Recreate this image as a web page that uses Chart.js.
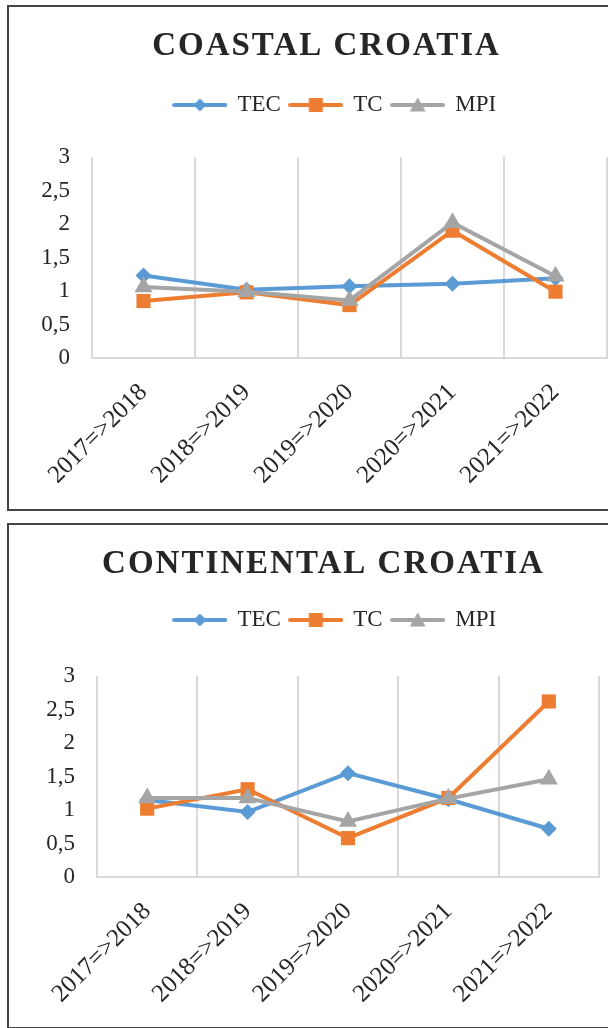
<!DOCTYPE html>
<html><head><meta charset="utf-8">
<script src="https://cdn.jsdelivr.net/npm/chart.js@4"></script>
<style>
html,body{margin:0;padding:0;background:#fff;overflow:hidden;width:608px;height:1028px;}
.box{position:absolute;left:7px;border:2px solid #444;width:652px;height:502px;background:#fff;}
#b1{top:5px}
#b2{top:523px}
canvas{display:block}
</style></head><body>
<div class="box" id="b1"><canvas id="c1" width="652" height="502"></canvas></div>
<div class="box" id="b2"><canvas id="c2" width="652" height="502"></canvas></div>
<script>
const categories = ['2017=>2018', '2018=>2019', '2019=>2020', '2020=>2021', '2021=>2022'];
const yTickLabels = ['0', '0,5', '1', '1,5', '2', '2,5', '3'];
const seriesNames = ['TEC', 'TC', 'MPI'];

const coastalTEC = [1.23, 1.02, 1.07, 1.11, 1.19];
const coastalTC  = [0.85, 0.98, 0.79, 1.90, 0.99];
const coastalMPI = [1.06, 0.99, 0.86, 2.02, 1.22];

const continentalTEC = [1.15, 0.97, 1.55, 1.16, 0.72];
const continentalTC  = [1.02, 1.31, 0.58, 1.18, 2.62];
const continentalMPI = [1.18, 1.18, 0.83, 1.17, 1.46];

const colors = ['#5B9BD5', '#ED7D31', '#A5A5A5'];
const styles = ['rectRot', 'rect', 'triangle'];
const radii = [8, 10, 10.5];
const FONT = "'Liberation Serif', 'Times New Roman', serif";
const TEXT = '#262626';

function makeIcon(color, style) {
  const c = document.createElement('canvas');
  c.width = 55; c.height = 18;
  const g = c.getContext('2d');
  g.strokeStyle = color; g.lineWidth = 4; g.lineCap = 'round';
  g.beginPath(); g.moveTo(2, 9); g.lineTo(53, 9); g.stroke();
  g.fillStyle = color; g.beginPath();
  if (style === 'rectRot') { g.moveTo(27.5, 2.5); g.lineTo(34, 9); g.lineTo(27.5, 15.5); g.lineTo(21, 9); }
  else if (style === 'rect') { g.rect(20.5, 2, 14, 14); }
  else { g.moveTo(27.5, 1.5); g.lineTo(35.5, 15.5); g.lineTo(19.5, 15.5); }
  g.closePath(); g.fill();
  return c;
}
const icons = colors.map((c, i) => makeIcon(c, styles[i]));

function makeChart(id, titleText, values, geo) {
  const tweak = {
    id: 'tweak',
    beforeUpdate(chart) {
      const lg = chart.legend;
      if (lg && !lg._patched) {
        const f = lg.fit;
        lg.fit = function () { f.call(this); this.height += geo.legendExtra; };
        lg._patched = true;
      }
    },
    beforeDraw(chart) {
      const tb = chart.titleBlock;
      if (tb && !tb._patched) {
        const d = tb.draw;
        tb.draw = function () {
          const c = this.ctx; c.save();
          c.letterSpacing = '2px';
          c.translate(geo.titleShift, 0);
          d.apply(this, arguments);
          c.restore();
        };
        tb._patched = true;
      }
    }
  };
  return new Chart(document.getElementById(id), {
    type: 'line',
    data: {
      labels: categories,
      datasets: values.map((v, i) => ({
        label: seriesNames[i],
        data: v,
        borderColor: colors[i],
        backgroundColor: colors[i],
        borderWidth: 4,
        pointStyle: styles[i],
        pointRadius: radii[i],
        pointBackgroundColor: colors[i],
        pointBorderColor: colors[i],
        pointBorderWidth: 0,
        tension: 0,
        order: 3 - i,
        clip: false
      }))
    },
    options: {
      responsive: false,
      animation: false,
      devicePixelRatio: 1,
      layout: { padding: 0 },
      plugins: {
        tooltip: { enabled: false },
        title: {
          display: true,
          text: titleText,
          color: TEXT,
          font: { family: FONT, size: 33, weight: 'bold', lineHeight: 1 },
          padding: { top: geo.titleTop, bottom: geo.titleBottom }
        },
        legend: {
          display: true,
          position: 'top',
          labels: {
            usePointStyle: true,
            pointStyleWidth: 52,
            padding: 9,
            color: TEXT,
            font: { family: FONT, size: 23 },
            generateLabels(chart) {
              return chart.data.datasets.map((ds, i) => ({
                text: ds.label,
                fillStyle: colors[i],
                strokeStyle: colors[i],
                lineWidth: 0,
                pointStyle: icons[i],
                fontColor: TEXT,
                hidden: false,
                datasetIndex: i
              }));
            }
          }
        }
      },
      scales: {
        x: {
          type: 'category',
          offset: true,
          grid: { display: true, offset: true, color: '#d9d9d9', lineWidth: 2, drawTicks: false },
          border: { display: true, color: '#d9d9d9', width: 2 },
          ticks: {
            autoSkip: false, maxRotation: 45, minRotation: 45, padding: 20,
            color: TEXT, font: { family: FONT, size: 25 }
          },
          afterFit(s) { s.height = geo.xHeight; }
        },
        y: {
          min: 0, max: 3,
          grid: { display: false, drawTicks: false },
          border: { display: false },
          ticks: {
            stepSize: 0.5, padding: 22, color: TEXT,
            font: { family: FONT, size: 23 },
            callback: (v) => yTickLabels[Math.round(v * 2)]
          },
          afterFit(s) { s.width = geo.yWidth; }
        },
        yR: {
          type: 'linear',
          position: 'right',
          display: true,
          grid: { display: false, drawTicks: false },
          border: { display: false },
          ticks: { display: false },
          afterFit(s) { s.width = geo.rightWidth; }
        }
      }
    },
    plugins: [tweak]
  });
}

makeChart('c1', 'COASTAL CROATIA', [coastalTEC, coastalTC, coastalMPI],
  { titleTop: 22.5, titleBottom: 22, legendExtra: 30.5, xHeight: 151, yWidth: 83, rightWidth: 54, titleShift: -8.5 });
makeChart('c2', 'CONTINENTAL CROATIA', [continentalTEC, continentalTC, continentalMPI],
  { titleTop: 22.5, titleBottom: 19, legendExtra: 34.5, xHeight: 150, yWidth: 88, rightWidth: 62, titleShift: -11.5 });
</script>
</body></html>
